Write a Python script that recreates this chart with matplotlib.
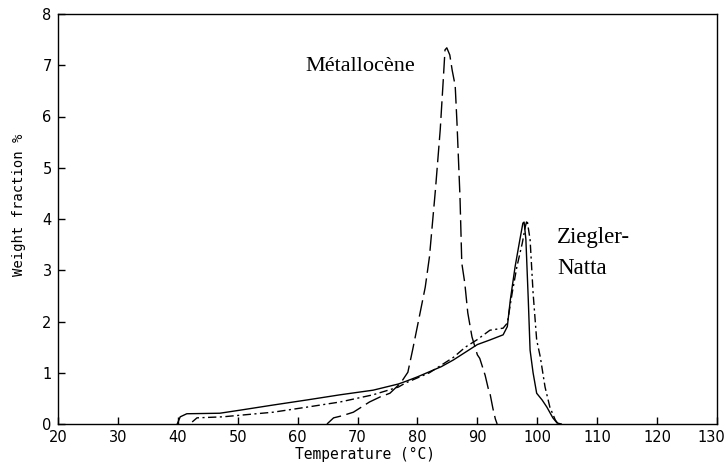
import matplotlib
matplotlib.use("Agg")
import matplotlib.pyplot as plt
import matplotlib.transforms as mtransforms

# Metallocene (dashed)
met_T = [64.9, 66.0, 67.4, 69.3, 72.0, 73.8, 75.4, 77.2, 78.4, 79.2, 80.1, 81.3, 82.0, 83.0,
         83.8, 84.3, 84.6, 84.9, 85.4, 85.8, 86.3, 86.6, 87.1, 87.4, 87.9, 88.4, 89.1,
         90.0, 90.4, 91.3, 91.8, 92.1, 92.6, 93.0, 93.3]
met_W = [0.0, 0.12, 0.16, 0.23, 0.43, 0.53, 0.60, 0.80, 1.01, 1.45, 1.97, 2.67, 3.26, 4.57,
         5.74, 6.70, 7.30, 7.34, 7.20, 6.90, 6.60, 5.87, 4.43, 3.14, 2.75, 2.17, 1.70,
         1.35, 1.28, 0.95, 0.70, 0.60, 0.30, 0.10, 0.0]

# Ziegler-Natta (solid)
zn1_T = [39.9, 40.4, 41.5, 47.0, 50.4, 55.9, 61.6, 67.1, 72.6, 76.8, 78.0, 80.0, 82.0,
         84.0, 86.0, 88.0, 90.0, 92.1, 94.3, 95.0, 95.5, 96.3, 97.1, 97.6, 97.8, 98.1,
         98.5, 98.8, 99.3, 99.9, 100.8, 101.6, 102.6, 103.3, 104.0]
zn1_W = [0.0, 0.14, 0.20, 0.21, 0.27, 0.37, 0.47, 0.57, 0.66, 0.78, 0.83, 0.92, 1.02,
         1.12, 1.25, 1.40, 1.55, 1.64, 1.74, 1.90, 2.42, 3.07, 3.60, 3.92, 3.94, 3.60,
         2.42, 1.44, 1.00, 0.60, 0.47, 0.33, 0.12, 0.02, 0.0]

# Ziegler-Natta (dash-dot)
zn2_T = [42.4, 43.2, 47.5, 55.9, 61.6, 67.1, 72.6, 76.8, 78.0, 80.0, 82.0, 84.0, 86.0,
         88.0, 89.9, 92.1, 94.3, 95.0, 95.8, 96.6, 97.5, 98.0, 98.3, 98.8, 99.3, 99.9,
         100.5, 101.3, 102.1, 103.0, 103.5]
zn2_W = [0.04, 0.12, 0.14, 0.23, 0.33, 0.43, 0.57, 0.72, 0.80, 0.90, 1.00, 1.15, 1.30,
         1.50, 1.64, 1.83, 1.87, 1.97, 2.55, 3.07, 3.53, 3.85, 3.98, 3.60, 2.56, 1.64,
         1.31, 0.72, 0.33, 0.08, 0.0]

x_ticks = [20, 30, 40, 50, 60, 70, 80, 90, 100, 110, 120, 130]
y_ticks = [0, 1, 2, 3, 4, 5, 6, 7, 8]

fig = plt.figure(figsize=(7.28, 4.63), dpi=100)
ax = fig.add_axes([58 / 728, 39 / 463, (717 - 58) / 728, (424 - 14) / 463])

ax.plot(met_T, met_W, color="black", lw=1.0, linestyle=(0, (12, 4)))
ax.plot(zn1_T, zn1_W, color="black", lw=1.0, linestyle="-")
ax.plot(zn2_T, zn2_W, color="black", lw=1.0, linestyle=(0, (6, 2.5, 1.5, 2.5)))

ax.set_xlim(20, 130)
ax.set_ylim(0, 8)
ax.set_xticks(x_ticks)
ax.set_yticks(y_ticks)
ax.tick_params(direction="in", length=5, width=1, labelsize=10.5, top=False, right=False)
ax.tick_params(axis="x", pad=4.5)
ax.tick_params(axis="y", pad=4.5)
for s in ax.spines.values():
    s.set_linewidth(1.0)

# shift the last x tick label slightly left so it stays inside the figure
fig.canvas.draw()
last = ax.get_xticklabels()[-1]
last.set_transform(last.get_transform() + mtransforms.ScaledTranslation(-6 / 100, 0, fig.dpi_scale_trans))

ax.set_xlabel("Temperature (\u00b0C)", family="DejaVu Sans Mono", fontsize=10.5)
ax.set_ylabel("Weight fraction %", family="DejaVu Sans Mono", fontsize=10)
ax.xaxis.set_label_coords(0.466, -0.057)
ax.yaxis.set_label_coords(-0.049, 0.534)

ax.text(70.4, 6.97, "Métallocène", family="Liberation Serif", fontsize=16,
        ha="center", va="center")
ax.text(103.3, 3.63, "Ziegler-", family="Liberation Serif", fontsize=16.5,
        ha="left", va="center")
ax.text(103.3, 3.04, "Natta", family="Liberation Serif", fontsize=16.5,
        ha="left", va="center")

fig.savefig("out.png", dpi=100)
